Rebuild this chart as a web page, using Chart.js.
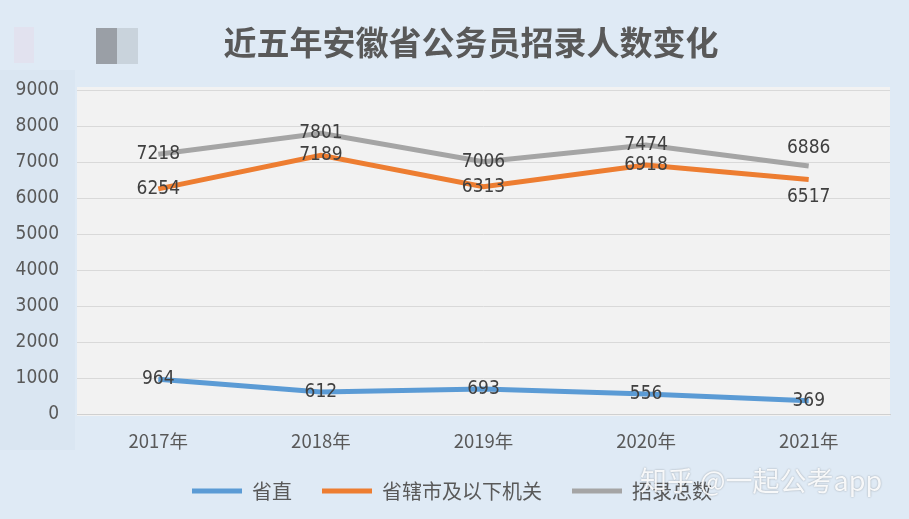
<!DOCTYPE html>
<html>
<head>
<meta charset="utf-8">
<script src="https://cdn.jsdelivr.net/npm/chart.js@4/dist/chart.umd.min.js"></script>
<style>
  html, body { margin: 0; padding: 0; background: #dfeaf5; }
  #wrap { width: 909px; height: 519px; }
</style>
</head>
<body>
<div id="wrap"><canvas id="chart" width="909" height="519"></canvas></div>
<script>
const TITLE = "近五年安徽省公务员招录人数变化";
const WATERMARK = "知乎 @一起公考app";
const years = ["2017年", "2018年", "2019年", "2020年", "2021年"];
const provincial = [964, 612, 693, 556, 369];
const cityAndBelow = [6254, 7189, 6313, 6918, 6517];
const totalHired = [7218, 7801, 7006, 7474, 6886];
const seriesNames = ["省直", "省辖市及以下机关", "招录总数"];

const COLORS = ["#5b9bd5", "#ed7d31", "#a5a5a5"];
const NUM_FONT = '"Liberation Sans Narrow", "DejaVu Sans Condensed", sans-serif';
const CJK_FONT = '"Noto Sans CJK SC", "Liberation Sans", sans-serif';

// vertical nudge for a few labels that would collide (dataset index -> per point)
const LABEL_DY = { 1: [0, 0, 0, 0, 18], 2: [0, 0, 0, 0, -18] };

const decorPlugin = {
    id: "decor",
    beforeDraw(chart) {
        const ctx = chart.ctx;
        const a = chart.chartArea;
        ctx.save();
        ctx.fillStyle = "#dfeaf5";
        ctx.fillRect(0, 0, chart.width, chart.height);
        ctx.fillStyle = "#dae6f2";
        ctx.fillRect(0, 70, 75, 380);
        // blurred logo blocks
        ctx.fillStyle = "#e2e2ef";
        ctx.fillRect(14, 27, 20, 36);
        ctx.fillStyle = "#9a9fa6";
        ctx.fillRect(96, 28, 21, 36);
        ctx.fillStyle = "#c9d3dc";
        ctx.fillRect(117, 28, 21, 36);
        // plot background
        ctx.fillStyle = "#f2f2f2";
        ctx.fillRect(a.left, a.top - 3, a.right - a.left, a.bottom - a.top + 5);
        // title
        ctx.fillStyle = "#595959";
        ctx.font = "bold 33px " + CJK_FONT;
        ctx.textAlign = "center";
        ctx.textBaseline = "middle";
        ctx.fillText(TITLE, 471, 42);
        ctx.restore();
    },
    afterDraw(chart) {
        const ctx = chart.ctx;
        ctx.save();
        ctx.font = "19px " + NUM_FONT;
        ctx.fillStyle = "#404040";
        ctx.textAlign = "center";
        ctx.textBaseline = "middle";
        chart.data.datasets.forEach((ds, di) => {
            const meta = chart.getDatasetMeta(di);
            meta.data.forEach((pt, i) => {
                const dy = LABEL_DY[di] ? LABEL_DY[di][i] : 0;
                ctx.fillText(String(ds.data[i]), pt.x, pt.y + dy);
            });
        });
        // watermark
        ctx.font = "27px " + CJK_FONT;
        ctx.textAlign = "left";
        ctx.shadowColor = "rgba(0,0,0,0.35)";
        ctx.shadowBlur = 2;
        ctx.fillStyle = "rgba(255,255,255,0.9)";
        ctx.fillText(WATERMARK, 640, 481);
        ctx.restore();
    }
};

const datasets = [provincial, cityAndBelow, totalHired].map((vals, i) => ({
    label: seriesNames[i],
    data: vals,
    borderColor: COLORS[i],
    backgroundColor: COLORS[i],
    borderWidth: 5,
    pointRadius: 0,
    tension: 0,
    order: 3 - i
}));

new Chart(document.getElementById("chart"), {
    type: "line",
    data: { labels: years, datasets: datasets },
    options: {
        responsive: false,
        animation: false,
        layout: { padding: { top: 90, right: 19, bottom: 8, left: 14 } },
        plugins: {
            title: { display: false },
            tooltip: { enabled: false },
            legend: {
                position: "bottom",
                labels: {
                    boxWidth: 50,
                    boxHeight: 5,
                    padding: 30,
                    color: "#595959",
                    font: { family: CJK_FONT, size: 20 },
                    generateLabels(chart) {
                        return chart.data.datasets.map((ds, i) => ({
                            text: ds.label,
                            fillStyle: ds.borderColor,
                            strokeStyle: ds.borderColor,
                            lineWidth: 0,
                            fontColor: "#595959",
                            datasetIndex: i
                        }));
                    }
                }
            }
        },
        scales: {
            x: {
                offset: true,
                grid: { display: false, drawTicks: false },
                border: { display: true, color: "#d0d0d0" },
                ticks: {
                    padding: 16,
                    color: "#595959",
                    font: { family: CJK_FONT, size: 18.5 }
                },
                afterFit(scale) { scale.height = 37; }
            },
            y: {
                min: 0,
                max: 9000,
                ticks: {
                    stepSize: 1000,
                    padding: 18,
                    color: "#595959",
                    font: { family: NUM_FONT, size: 19 },
                    callback: (v) => String(v)
                },
                grid: { color: "#d9d9d9", drawTicks: false },
                border: { display: false },
                afterFit(scale) { scale.width = 63; }
            }
        }
    },
    plugins: [decorPlugin]
});
</script>
</body>
</html>
